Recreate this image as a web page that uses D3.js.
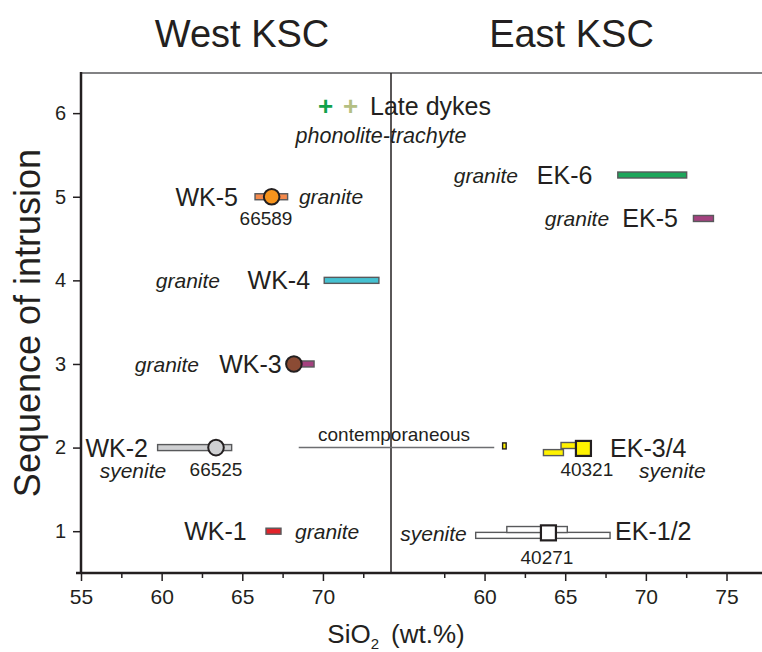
<!DOCTYPE html>
<html><head><meta charset="utf-8">
<script src="https://cdn.jsdelivr.net/npm/d3@7"></script>
<style>
body{margin:0;background:#fff;}
svg{display:block;font-family:"Liberation Sans",Arial,Helvetica,sans-serif;}
</style></head><body>
<script>
// ---------- data ----------
const panelTitles = ["West KSC", "East KSC"];
const westTicks = [55, 60, 65, 70];
const westMinor = [57.5, 62.5, 67.5, 72.5];
const eastTicks = [60, 65, 70, 75];
const eastMinor = [57.5, 62.5, 67.5, 72.5];
const yTicks = [1, 2, 3, 4, 5, 6];

// SiO2 range bars
const barNames  = ["WK-1", "WK-2", "WK-3", "WK-4", "WK-5", "EK-1/2 a", "EK-1/2 b", "EK-3/4 a", "EK-3/4 b", "EK-3/4 c", "EK-5", "EK-6"];
const barSide   = ["W", "W", "W", "W", "W", "E", "E", "E", "E", "E", "E", "E"];
const barLevel  = [1, 2, 3, 4, 5, 0.95, 1.02, 2.025, 1.94, 2.02, 4.74, 5.26];
const barMin    = [66.47, 59.75, 68.1, 70.08, 65.79, 59.45, 61.38, 64.74, 63.65, 61.12, 72.95, 68.26];
const barMax    = [67.40, 64.34, 69.45, 73.47, 67.81, 67.78, 65.13, 66.10, 64.89, 61.34, 74.19, 72.53];
const barColor  = ["#e2232a", "#cfd0d2", "#a4417f", "#45c1d1", "#f58a4c", "#ffffff", "#ffffff", "#fff200", "#fff200", "#fff200", "#a4417f", "#1da65b"];

// dated samples (markers)
const sampleIds    = ["66589", "66525", "WK-3", "40321", "40271"];
const sampleSide   = ["W", "W", "W", "E", "E"];
const sampleShape  = ["circle", "circle", "circle", "square", "square"];
const sampleSiO2   = [66.82, 63.37, 68.2, 66.13, 63.96];
const sampleLevel  = [5, 2, 3, 1.99, 0.98];
const sampleColor  = ["#f7941d", "#cfd0d2", "#8b4b34", "#fff200", "#ffffff"];

// late dykes
const dykeSiO2  = [70.17, 71.72];
const dykeLevel = [6.09, 6.09];
const dykeColor = ["#12a24b", "#b4bf83"];

// contemporaneous link (west value -> east value)
const linkFrom = 68.5, linkTo = 60.6, linkLevel = 2;

// text annotations
const labelText  = ["WK-5", "granite", "66589", "granite", "WK-4", "granite", "WK-3", "WK-2", "syenite", "66525", "WK-1", "granite",
                    "Late dykes", "phonolite-trachyte", "contemporaneous",
                    "granite", "EK-6", "granite", "EK-5", "EK-3/4", "40321", "syenite", "syenite", "EK-1/2", "40271"];
const labelSide  = ["W","W","W","W","W","W","W","W","W","W","W","W",
                    "W","W","E",
                    "E","E","E","E","E","E","E","E","E","E"];
const labelX     = [64.73, 68.51, 66.47, 63.62, 69.2, 62.32, 67.44, 59.15, 58.22, 63.37, 65.27, 68.27,
                    72.92, 73.6, 54.39,
                    62.07, 63.24, 67.72, 68.54, 67.78, 66.34, 69.58, 58.9, 68.09, 63.87];
const labelY     = [5, 5, 4.74, 4, 4, 3, 3, 2, 1.725, 1.74, 1, 1,
                    6.09, 5.74, 2.16,
                    5.26, 5.26, 4.74, 4.74, 2, 1.74, 1.725, 0.97, 1, 0.69];
const labelKind  = ["name","rock","num","rock","name","rock","name","name","rock","num","name","rock",
                    "name","rock2","note",
                    "rock","name","rock","name","name","num","rock","rock","name","num"];
const labelAnchor= ["end","start","middle","end","end","end","end","end","middle","middle","end","start",
                    "start","middle","middle",
                    "end","start","end","start","start","middle","start","end","start","middle"];

// ---------- layout ----------
const W = 762, H = 652;
const mLeft = 81, mTop = 73, mBottom = 573, divX = 391, mRight = 762;
const ink = "#231f20";

const svg = d3.select("body").append("svg").attr("width", W).attr("height", H);

const xW = d3.scaleLinear().domain([55, 74.22]).range([mLeft, divX]);
const xE = d3.scaleLinear().domain([54.2, 77.2]).range([divX, mRight]);
const y = d3.scaleLinear().domain([0.5, 6.48]).range([mBottom, mTop]);
const xs = s => s === "W" ? xW : xE;

// frame
svg.append("line").attr("x1", mLeft).attr("x2", mRight).attr("y1", mTop).attr("y2", mTop)
  .attr("stroke", "#58595b").attr("stroke-width", 1.6);
svg.append("line").attr("x1", divX).attr("x2", divX).attr("y1", mTop).attr("y2", mBottom)
  .attr("stroke", ink).attr("stroke-width", 1.5);

// x axes
function xAxis(scale, major, minor) {
  const gM = svg.append("g").attr("transform", `translate(0,${mBottom})`)
    .call(d3.axisBottom(scale).tickValues(major).tickSize(8).tickPadding(8).tickSizeOuter(0).tickFormat(d3.format("d")));
  gM.select(".domain").remove();
  gM.selectAll("line").attr("stroke", ink).attr("stroke-width", 1.5);
  gM.selectAll("text").attr("fill", ink).attr("font-size", 21);
  const gm = svg.append("g").attr("transform", `translate(0,${mBottom})`)
    .call(d3.axisBottom(scale).tickValues(minor).tickSize(5).tickFormat("").tickSizeOuter(0));
  gm.select(".domain").remove();
  gm.selectAll("line").attr("stroke", ink).attr("stroke-width", 1.5);
}
xAxis(xW, westTicks, westMinor);
xAxis(xE, eastTicks, eastMinor);

// y axis
const gy = svg.append("g").attr("transform", `translate(${mLeft},0)`)
  .call(d3.axisLeft(y).tickValues(yTicks).tickSize(8).tickPadding(7).tickSizeOuter(0).tickFormat(d3.format("d")));
gy.select(".domain").remove();
gy.selectAll("line").attr("stroke", ink).attr("stroke-width", 1.5);
gy.selectAll("text").attr("fill", ink).attr("font-size", 20);

// axis lines
svg.append("line").attr("x1", mLeft).attr("x2", mLeft).attr("y1", mTop - 1).attr("y2", mBottom)
  .attr("stroke", ink).attr("stroke-width", 2.5);
svg.append("line").attr("x1", mLeft - 5).attr("x2", mRight).attr("y1", mBottom).attr("y2", mBottom)
  .attr("stroke", ink).attr("stroke-width", 2.5);

// titles
svg.selectAll("text.panel").data(panelTitles).join("text").attr("class", "panel")
  .attr("x", (d, i) => i === 0 ? (mLeft + divX) / 2 + 6 : (divX + mRight) / 2 - 5)
  .attr("y", 47).attr("text-anchor", "middle").attr("font-size", 38).attr("fill", ink).text(d => d);

svg.append("text").attr("transform", `translate(40,${(mTop + mBottom) / 2}) rotate(-90)`)
  .attr("text-anchor", "middle").attr("font-size", 36).attr("fill", ink).text("Sequence of intrusion");

const xt = svg.append("text").attr("x", 396).attr("y", 643).attr("text-anchor", "middle")
  .attr("font-size", 26).attr("fill", ink);
xt.append("tspan").text("SiO");
xt.append("tspan").attr("font-size", 15).attr("dy", 6).text("2");
xt.append("tspan").attr("dy", -6).attr("dx", 12).text("(wt.%)");

// contemporaneous link
svg.append("line").attr("x1", xW(linkFrom)).attr("x2", xE(linkTo))
  .attr("y1", y(linkLevel)).attr("y2", y(linkLevel))
  .attr("stroke", "#6d6e71").attr("stroke-width", 1.5);

// bars
const barH = 6;
const bars = barNames.map((n, i) => ({n, s: barSide[i], l: barLevel[i], a: barMin[i], b: barMax[i], c: barColor[i]}));
svg.selectAll("rect.bar").data(bars).join("rect").attr("class", "bar")
  .attr("x", d => xs(d.s)(d.a)).attr("width", d => xs(d.s)(d.b) - xs(d.s)(d.a))
  .attr("y", d => y(d.l) - barH / 2).attr("height", barH)
  .attr("fill", d => d.c).attr("stroke", d => d.n === "EK-3/4 c" ? ink : "#58595b").attr("stroke-width", 1.4);

// markers
const samples = sampleIds.map((n, i) => ({n, s: sampleSide[i], sh: sampleShape[i], v: sampleSiO2[i], l: sampleLevel[i], c: sampleColor[i]}));
samples.forEach(d => {
  const cx = xs(d.s)(d.v), cy = y(d.l);
  if (d.sh === "circle") {
    svg.append("circle").attr("cx", cx).attr("cy", cy).attr("r", 7.8)
      .attr("fill", d.c).attr("stroke", ink).attr("stroke-width", 2);
  } else {
    svg.append("rect").attr("x", cx - 7.5).attr("y", cy - 7.5).attr("width", 15).attr("height", 15)
      .attr("fill", d.c).attr("stroke", ink).attr("stroke-width", 2.2);
  }
});

// late dykes crosses
dykeSiO2.forEach((v, i) => {
  svg.append("text").attr("x", xW(v)).attr("y", y(dykeLevel[i])).attr("text-anchor", "middle")
    .attr("dominant-baseline", "central").attr("font-size", 26).attr("font-weight", "bold")
    .attr("fill", dykeColor[i]).text("+");
});

// labels
const kindSize = {name: 25, rock: 21, rock2: 21.5, num: 19, note: 19};
labelText.forEach((t, i) => {
  const k = labelKind[i];
  svg.append("text").attr("x", xs(labelSide[i])(labelX[i])).attr("y", y(labelY[i]))
    .attr("dy", "0.36em").attr("text-anchor", labelAnchor[i])
    .attr("font-size", kindSize[k]).attr("font-style", (k === "rock" || k === "rock2") ? "italic" : "normal")
    .attr("fill", ink).text(t);
});
</script>
</body></html>
